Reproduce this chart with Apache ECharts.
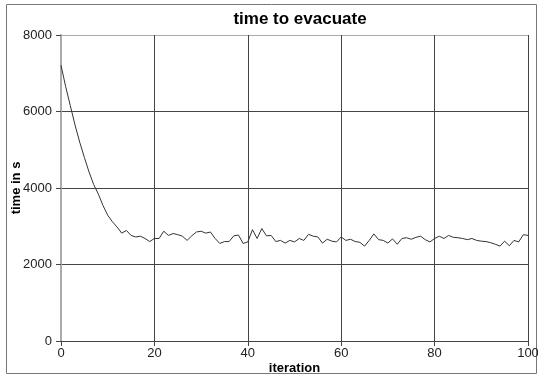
<!DOCTYPE html>
<html>
<head>
<meta charset="utf-8">
<script src="https://cdn.jsdelivr.net/npm/echarts@6/dist/echarts.min.js"></script>
<style>
  html, body { margin: 0; padding: 0; background: #fff; }
  #main { width: 538px; height: 379px; }
</style>
</head>
<body>
<div id="main"></div>
<script>
// values
const evacTime = [
  7210, 6650, 6150, 5650, 5200, 4800, 4420, 4090, 3840, 3540,
  3290, 3120, 2980, 2820, 2890, 2760, 2720, 2740, 2680, 2600,
  2680, 2680, 2870, 2760, 2810, 2780, 2740, 2630, 2750, 2850,
  2870, 2820, 2850, 2680, 2550, 2600, 2600, 2750, 2770, 2550,
  2590, 2910, 2680, 2940, 2750, 2760, 2600, 2630, 2560, 2630,
  2590, 2680, 2630, 2790, 2740, 2720, 2560, 2660, 2610, 2590,
  2720, 2630, 2660, 2600, 2580, 2480, 2630, 2800, 2650, 2630,
  2560, 2670, 2530, 2680, 2700, 2660, 2710, 2740, 2650, 2590,
  2680, 2740, 2680, 2760, 2710, 2700, 2680, 2650, 2680, 2630,
  2610, 2600, 2570, 2530, 2480, 2610, 2490, 2630, 2590, 2780,
  2760
];
const xTicks = [0, 20, 40, 60, 80, 100];
const yTicks = [0, 2000, 4000, 6000, 8000];

const chart = echarts.init(document.getElementById('main'), null, {renderer: 'canvas'});
const font = 'Liberation Sans, Arial, sans-serif';

chart.setOption({
    animation: false,
    title: {
        text: 'time to evacuate',
        left: 295,
        top: 6,
        textAlign: 'center',
        textStyle: {fontFamily: font, fontSize: 17, fontWeight: 'bold', color: '#000'}
    },
    graphic: [{
        type: 'rect',
        shape: {x: 6.5, y: 4.5, width: 530, height: 369},
        style: {fill: 'none', stroke: '#777', lineWidth: 1},
        z: -1
    }],
    grid: {left: 61, right: 10, top: 35, bottom: 38, outerBoundsMode: 'none', containLabel: false},
    xAxis: {
        type: 'value',
        min: xTicks[0],
        max: xTicks[xTicks.length - 1],
        interval: 20,
        name: 'iteration',
        nameLocation: 'middle',
        nameGap: 21,
        nameMoveOverlap: false,
        nameTextStyle: {fontFamily: font, fontSize: 13, fontWeight: 'bold', color: '#000'},
        axisLine: {show: true, lineStyle: {color: '#444', width: 1}},
        axisTick: {show: true, inside: false, length: 5, lineStyle: {color: '#444'}},
        axisLabel: {fontFamily: font, fontSize: 13, color: '#222', margin: 6},
        splitLine: {show: true, lineStyle: {color: ['#aaa', '#444', '#444', '#444', '#444', '#444'], width: 1}}
    },
    yAxis: {
        type: 'value',
        min: yTicks[0],
        max: yTicks[yTicks.length - 1],
        interval: 2000,
        name: 'time in s',
        nameLocation: 'middle',
        nameGap: 38,
        nameMoveOverlap: false,
        nameTextStyle: {fontFamily: font, fontSize: 13, fontWeight: 'bold', color: '#000'},
        axisLine: {show: true, lineStyle: {color: '#aaa', width: 2}},
        axisTick: {show: true, inside: false, length: 5, lineStyle: {color: '#444'}},
        axisLabel: {fontFamily: font, fontSize: 13, color: '#222', margin: 9, formatter: v => String(v)},
        splitLine: {show: true, lineStyle: {color: ['#444', '#444', '#444', '#444', '#aaa'], width: 1}}
    },
    series: [{
        type: 'line',
        data: evacTime.map((v, i) => [i, v]),
        showSymbol: false,
        lineStyle: {color: '#333', width: 1},
        z: 3
    }]
});
</script>
</body>
</html>
